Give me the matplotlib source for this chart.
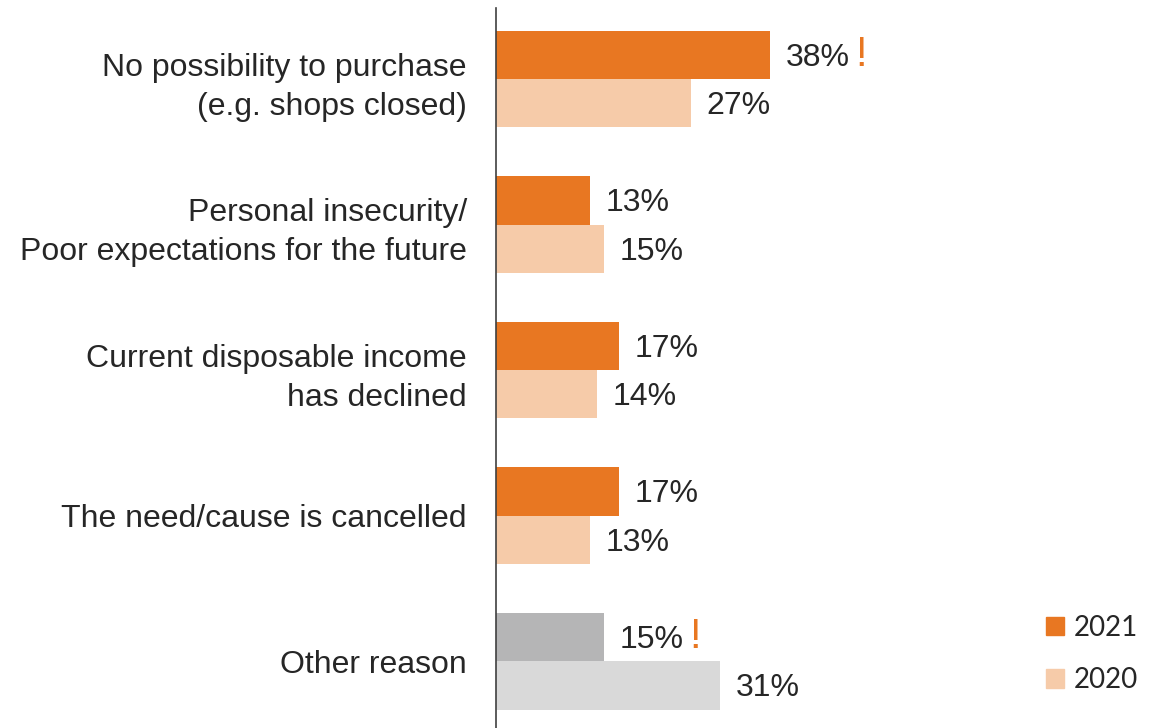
import matplotlib.pyplot as plt

# Gründe für Kaufverzicht, Anteil der Befragten in %
reasons = [
    "No possibility to purchase\n(e.g. shops closed)",
    "Personal insecurity/\nPoor expectations for the future",
    "Current disposable income\nhas declined",
    "The need/cause is cancelled",
    "Other reason",
]
share_2021 = [38, 13, 17, 17, 15]
share_2020 = [27, 15, 14, 13, 31]
flagged = [True, False, False, False, True]

orange = "#E87722"
light_orange = "#F6CBA9"
dark_grey = "#B5B5B6"
light_grey = "#D9D9D9"
text_col = "#262626"

plt.rcParams["font.family"] = ["Liberation Sans", "DejaVu Sans"]

fig = plt.figure(figsize=(11.58, 7.28), dpi=100)
ax = fig.add_axes([496 / 1158, 0, 662 / 1158, 720 / 728])

h = 0.333
n = len(reasons)
for i in range(n):
    other = i == n - 1
    c21 = dark_grey if other else orange
    c20 = light_grey if other else light_orange
    ax.barh(i - h / 2, share_2021[i], height=h, color=c21)
    ax.barh(i + h / 2, share_2020[i], height=h, color=c20)

    t21 = ax.text(share_2021[i] + 2.2, i - h / 2 + 0.02, f"{share_2021[i]}%",
                  va="center", ha="left", fontsize=23, color=text_col)
    ax.text(share_2020[i] + 2.2, i + h / 2 + 0.02, f"{share_2020[i]}%",
            va="center", ha="left", fontsize=23, color=text_col)
    if flagged[i]:
        ax.annotate("!", xy=(1, 0.5), xycoords=t21, xytext=(4, 2),
                    textcoords="offset points", va="center", ha="left",
                    fontsize=30, color=orange)

ax.set_xlim(0, 662 / 7.21)
ax.set_ylim(n - 1 + 0.46, -0.488)

ax.set_yticks(range(n))
ax.set_yticklabels(reasons, fontsize=23, color=text_col, linespacing=1.4)
ax.tick_params(axis="y", length=0, pad=21)
ax.set_xticks([])

for side in ["top", "right", "bottom"]:
    ax.spines[side].set_visible(False)
ax.spines["left"].set_color("#404040")
ax.spines["left"].set_linewidth(1.2)

# Legende rechts unten
handles = [plt.Rectangle((0, 0), 1, 1, color=orange),
           plt.Rectangle((0, 0), 1, 1, color=light_orange)]
fig.legend(handles, ["2021", "2020"], loc="center left",
           bbox_to_anchor=(1046 / 1158, 1 - 654 / 728), frameon=False,
           borderpad=0, borderaxespad=0,
           prop={"family": ["Lato", "DejaVu Sans"], "size": 20},
           handlelength=0.65, handleheight=0.65, handletextpad=0.35,
           labelspacing=0.95, labelcolor=text_col)

fig.savefig("out.png", dpi=100)
